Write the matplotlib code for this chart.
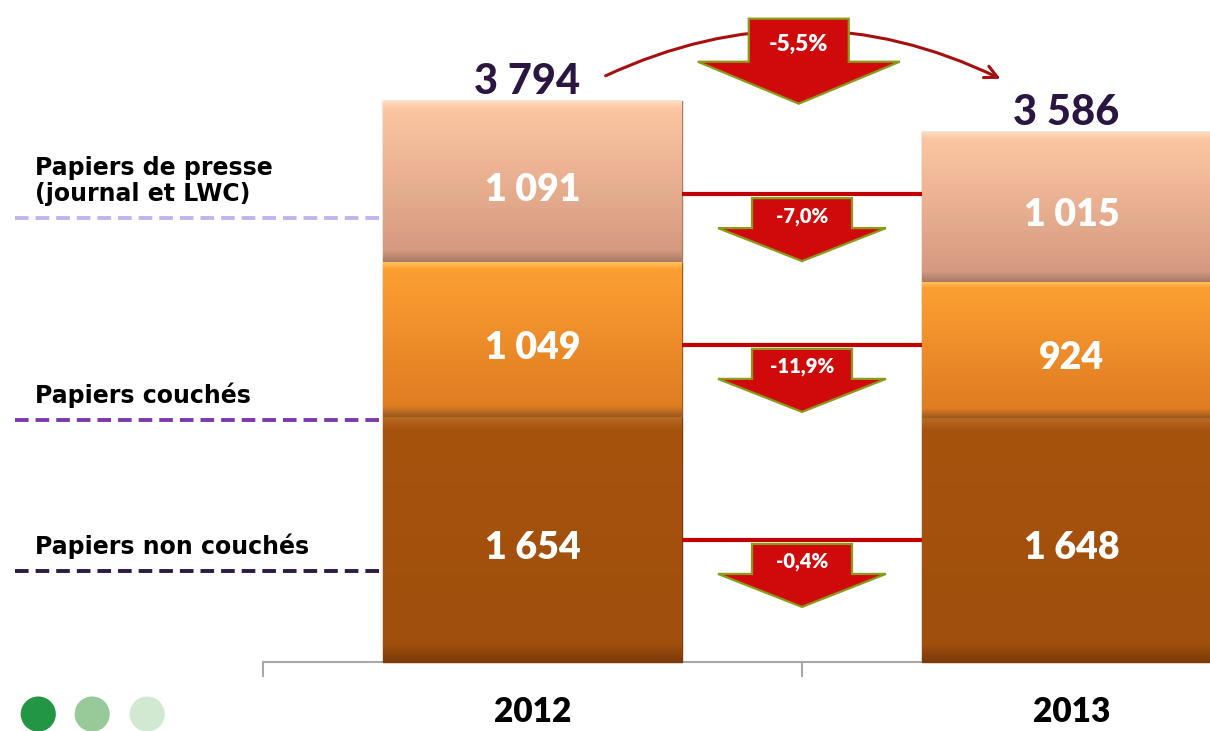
import numpy as np
import matplotlib
matplotlib.use("Agg")
import matplotlib.pyplot as plt
from matplotlib.colors import LinearSegmentedColormap
from matplotlib.patches import Polygon
from matplotlib import transforms

# ---------------- data ----------------
years = ["2012", "2013"]
non_couches = [1654, 1648]
couches = [1049, 924]
presse = [1091, 1015]
totals = [3794, 3586]
total_change = "-5,5%"
segment_changes = ["-0,4%", "-11,9%", "-7,0%"]   # bottom, middle, top
segment_names = ["Papiers non couchés", "Papiers couchés", "Papiers de presse\n(journal et LWC)"]
value_labels_2012 = ["1 654", "1 049", "1 091"]
value_labels_2013 = ["1 648", "924", "1 015"]
total_labels = ["3 794", "3 586"]

# ---------------- figure ----------------
W, H, DPI = 1210, 731, 100
fig = plt.figure(figsize=(W / DPI, H / DPI), dpi=DPI)
ax = fig.add_axes([0, 0, 1, 1])
ax.set_axis_off()
XMIN, XMAX = -0.988, 1.257
YMIN, YMAX = -466.6, 4476.5
PX_Y = (YMAX - YMIN) / H          # data units per pixel (y)

x = np.arange(len(years))
bw = 0.553
segments = [non_couches, couches, presse]
seg_styles = [
    dict(hl="#b86a22", top="#a6530e", bot="#a04f0c", edge="#7a3a08"),
    dict(hl="#ffc860", top="#fc9f32", bot="#e07c22", edge="#9a5a20"),
    dict(hl="#ffe0c4", top="#fdc6a2", bot="#d49a80", edge="#a87a66"),
]
fontv = "Lato"

bottoms = np.zeros(len(years))
seg_centers = []
for vals, st in zip(segments, seg_styles):
    bars = ax.bar(x, vals, bw, bottom=bottoms, color=st["top"], edgecolor=st["edge"],
                  linewidth=1.0, zorder=3)
    cmap = LinearSegmentedColormap.from_list(
        "g", [(0, st["hl"]), (0.05, st["top"]), (0.93, st["bot"]), (1.0, st["edge"])])
    for b in bars:
        bx, by = b.get_x(), b.get_y()
        bwid, bh = b.get_width(), b.get_height()
        grad = np.linspace(0, 1, 256).reshape(-1, 1)
        im = ax.imshow(grad, cmap=cmap, aspect="auto", origin="upper",
                       extent=(bx, bx + bwid, by, by + bh), zorder=3.5)
        im.set_clip_path(b)
    seg_centers.append(bottoms + np.array(vals) / 2.0)
    bottoms = bottoms + np.array(vals)

# segment value labels
for i, labs in enumerate([value_labels_2012, value_labels_2013]):
    for k, lab in enumerate(labs):
        ax.text(x[i], seg_centers[k][i] - 8 * PX_Y, lab, ha="center", va="center",
                color="white", fontsize=27, fontweight=800, family=fontv, zorder=5)

# totals
for i, lab in enumerate(total_labels):
    ax.text(x[i] - 0.01, totals[i] + 127, lab, ha="center", va="center", color="#2a1640",
            fontsize=30, fontweight=900, family=fontv, zorder=5)

# years
for i, lab in enumerate(years):
    ax.text(x[i], -50 * PX_Y, lab, ha="center", va="center", color="black",
            fontsize=24, fontweight=800, family=fontv, zorder=5)

# axis line and ticks
ax.plot([-0.5, XMAX], [0, 0], color="#a8a8a8", lw=1.5, zorder=2, solid_capstyle="butt")
for tx in [-0.5, 0.5]:
    ax.plot([tx, tx], [0, -14 * PX_Y], color="#a8a8a8", lw=1.5, zorder=2)

# block-arrow helper (shape in pixels, anchored in data coords)
def block_arrow(xd, yd, body_hw, body_h, head_hw, head_h, text, fs):
    trans = fig.dpi_scale_trans + transforms.ScaledTranslation(xd, yd, ax.transData)
    pts = np.array([
        (-body_hw, 0), (body_hw, 0), (body_hw, -body_h), (head_hw, -body_h),
        (0, -body_h - head_h), (-head_hw, -body_h), (-body_hw, -body_h)
    ]) / DPI
    poly = Polygon(pts, closed=True, transform=trans, facecolor="#d00a0a",
                   edgecolor="#8c9a1c", lw=1.6, zorder=6, joinstyle="miter")
    ax.add_patch(poly)
    ax.text(0, -body_h * 0.6 / DPI, text, transform=trans, ha="center", va="center",
            color="white", fontsize=fs, fontweight=800, family=fontv, zorder=7)

# red connector lines + segment arrows
bar_r = x[0] + bw / 2
bar_l = x[1] - bw / 2
for k in range(3):
    ly = (seg_centers[k][0] + seg_centers[k][1]) / 2.0
    ax.plot([bar_r, bar_l], [ly, ly], color="#c00000", lw=3.0, zorder=4,
            solid_capstyle="butt")
    block_arrow(0.5, ly - 4 * PX_Y, 50, 30, 84, 33, segment_changes[k], 14.5)

# total arrow
block_arrow(0.494, totals[0] + 556, 50, 43, 101, 42, total_change, 16.5)

# curved arrow between totals
ax.annotate("", xy=(0.873, totals[1] + 349), xytext=(0.131, totals[0] + 162),
            arrowprops=dict(arrowstyle="->,head_length=0.9,head_width=0.45",
                            color="#a51010", lw=2.2,
                            connectionstyle="arc3,rad=-0.24"),
            zorder=5)

# left category labels with dashed lines
dash_y = [615, 1636, 3002]
dash_colors = ["#2c1a44", "#7a3aaa", "#c3b3ec"]
for k in range(3):
    ax.plot([-0.960, x[0] - bw / 2], [dash_y[k], dash_y[k]], color=dash_colors[k],
            lw=2.8, dashes=(3.5, 1.8), zorder=2)
    ax.text(-0.923, dash_y[k] + 12 * PX_Y, segment_names[k], ha="left", va="bottom",
            color="black", fontsize=17, fontweight="bold", family="DejaVu Sans",
            linespacing=1.1, zorder=5)

# decorative circles
ax.scatter([-0.917, -0.817, -0.715], [-352, -352, -352], s=640,
           c=["#229645", "#98c998", "#d1e9d1"], linewidths=0, zorder=5)

ax.set_xlim(XMIN, XMAX)
ax.set_ylim(YMIN, YMAX)
fig.savefig("out.png", dpi=DPI, facecolor="white")
